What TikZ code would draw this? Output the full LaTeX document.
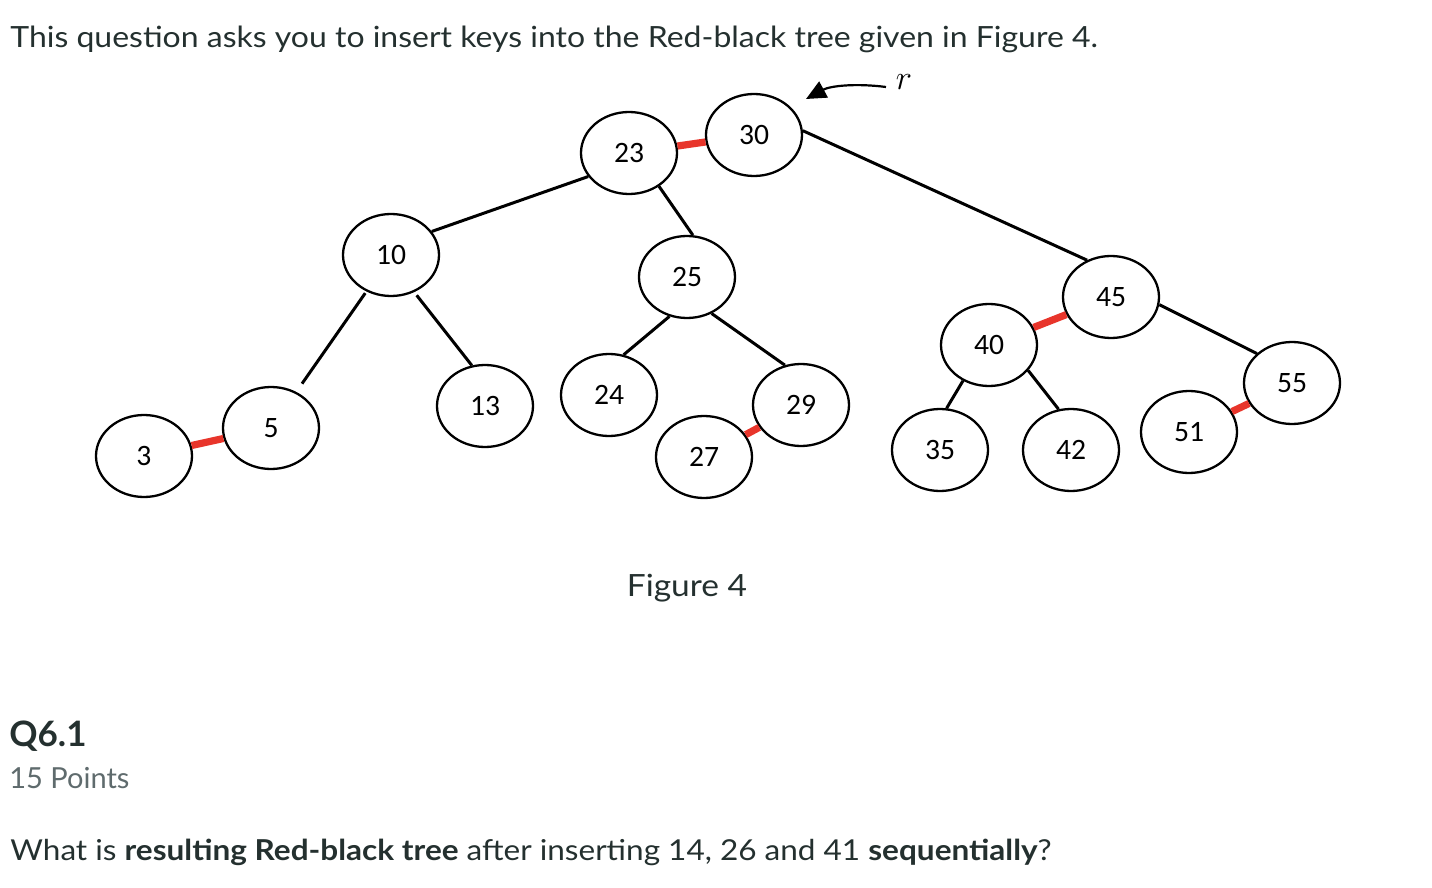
\documentclass[tikz,border=0pt]{standalone}
\usepackage{fontspec}
\setmainfont{Lato}[FakeStretch=1.095]
\newfontfamily\plainlato{Lato}
\newfontfamily\nodefont{Carlito}
\usetikzlibrary{shapes.geometric,arrows.meta}
\definecolor{txt}{HTML}{24302F}
\definecolor{gry}{HTML}{5F6B6D}
\definecolor{rbred}{HTML}{E8352B}
\begin{document}
\begin{tikzpicture}[x=0.5pt,y=-0.5pt,
 rb/.style={ellipse,draw,line width=1.15pt,minimum width=48pt,minimum height=41pt,inner sep=0pt,font=\nodefont\fontsize{14.8}{16}\selectfont},
 blk/.style={line width=1.5pt},
 redl/.style={line width=3.6pt,draw=rbred},
 txtl/.style={anchor=base west,inner sep=0pt,text=txt,font=\fontsize{14.5}{17}\selectfont}]
\useasboundingbox (0,0) rectangle (1432,888);
\node[txtl,font=\fontsize{14.6}{17}\selectfont] (title) at (10,48) {This question asks you to insert keys into the Red-black tree given in Figure 4.};
% nodes
\node[rb] (n3) at (144,456) {3};
\node[rb] (n5) at (271,428) {5};
\node[rb] (n10) at (391,255) {10};
\node[rb] (n13) at (485,406) {13};
\node[rb] (n23) at (629,153) {23};
\node[rb] (n24) at (609,395) {24};
\node[rb] (n25) at (687,277) {25};
\node[rb] (n27) at (704,457) {27};
\node[rb] (n29) at (801,405) {29};
\node[rb] (n30) at (754,135) {30};
\node[rb] (n35) at (940,450) {35};
\node[rb] (n40) at (989,345) {40};
\node[rb] (n42) at (1071,450) {42};
\node[rb] (n45) at (1111,297) {45};
\node[rb] (n51) at (1189,432) {51};
\node[rb] (n55) at (1292,383) {55};
% black edges
\draw[blk] (n10.30) -- (n23.210);
\draw[blk,shorten <=1pt,shorten >=5pt] (n10.236) -- (n5.55);
\draw[blk,shorten <=2pt] (n10.302) -- (n13.108);
\draw[blk] (n23.312) -- (n25.82);
\draw[blk] (n25.246) -- (n24.70);
\draw[blk] (n25.304) -- (n29.112);
\draw[blk] (n30.5) -- (n45.123);
\draw[blk] (n45.351) -- (n55.140);
\draw[blk] (n40.234) -- (n35.81);
\draw[blk] (n40.327) -- (n42.107);
% red edges
\draw[redl] (n3) -- (n5);
\draw[redl] (n23) -- (n30);
\draw[redl] (n27) -- (n29);
\draw[redl] (n40) -- (n45);
\draw[redl] (n51) -- (n55);
% root pointer
\node[inner sep=0pt,font=\fontsize{19}{21}\selectfont] (rlab) at (904,82) {$r$};
\coordinate (rs) at (886,87);
\coordinate (rt) at (806,99);
\draw[line width=1.1pt,-{Triangle[length=10pt,width=9pt]}] (rs) .. controls (855,83) and (830,86) .. (rt);
% captions
\node[inner sep=0pt,text=txt,font=\fontsize{15.3}{17}\selectfont,anchor=base] (fig) at (687,596) {Figure 4};
\node[txtl,font=\plainlato\bfseries\fontsize{17.5}{20}\selectfont] (q) at (9,746) {Q6.1};
\node[txtl,text=gry,font=\plainlato\fontsize{14.5}{17}\selectfont] (pts) at (9,788) {15 Points};
\node[txtl,font=\fontsize{14.4}{17}\selectfont] (ques) at (10,860) {What is \textbf{resulting Red-black tree} after inserting 14, 26 and 41 \textbf{sequentially}?};
\end{tikzpicture}
\end{document}
